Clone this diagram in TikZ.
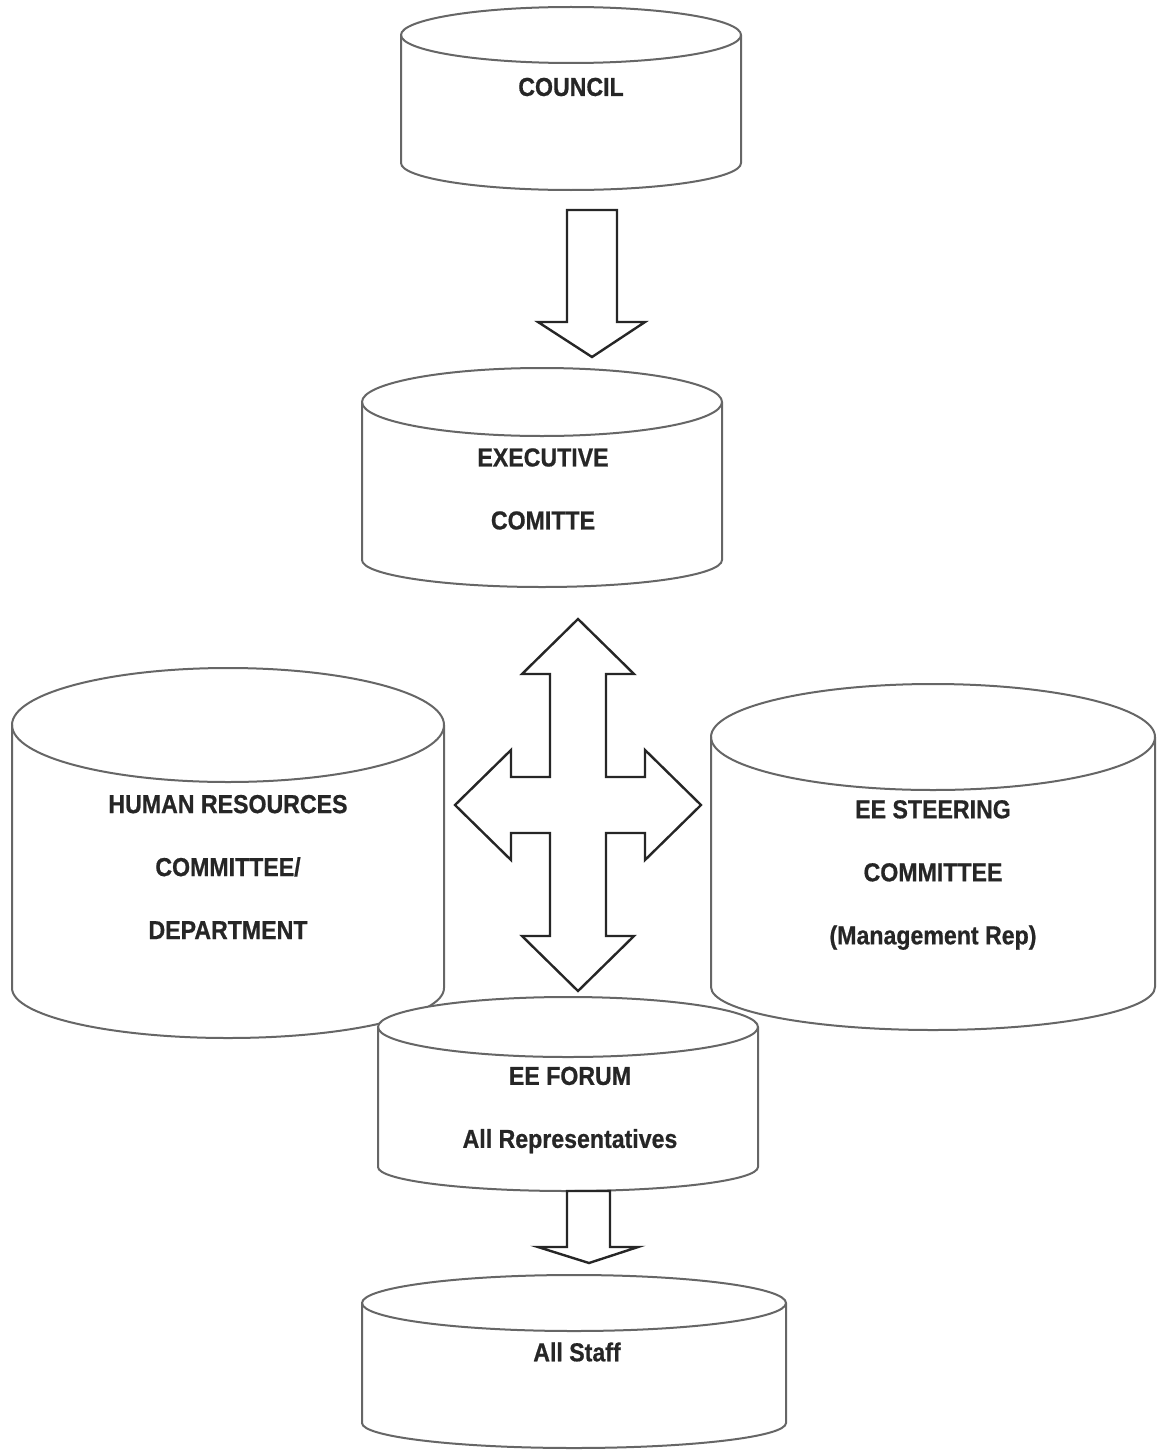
\documentclass[tikz,border=0pt]{standalone}
\usepackage{fontspec}
\newfontfamily\orgfont{Liberation Sans}[FakeStretch=0.89, BoldFeatures={FakeBold=0.6}]
\usepackage{tikz}

\begin{document}
\begin{tikzpicture}[x=0.5pt, y=-0.5pt,
  drum/.style={draw=black!60, line width=1pt, fill=white},
  rim/.style={draw=black!60, line width=1pt},
  blockarrow/.style={draw=black!85, line width=1.2pt, fill=white, line join=miter},
  lbl/.style={align=center, text=black!85, font=\orgfont\bfseries\fontsize{13pt}{31.5pt}\selectfont}]
\draw[drum] (401,35) arc[start angle=180, end angle=360, x radius=170, y radius=28] -- (741,163) arc[start angle=0, end angle=180, x radius=170, y radius=27] -- cycle;
\draw[rim] (741,35) arc[start angle=0, end angle=180, x radius=170, y radius=28];
\draw[drum] (362,402) arc[start angle=180, end angle=360, x radius=180, y radius=34] -- (722,560) arc[start angle=0, end angle=180, x radius=180, y radius=27] -- cycle;
\draw[rim] (722,402) arc[start angle=0, end angle=180, x radius=180, y radius=34];
\draw[drum] (12,725) arc[start angle=180, end angle=360, x radius=216, y radius=57] -- (444,988) arc[start angle=0, end angle=180, x radius=216, y radius=50] -- cycle;
\draw[rim] (444,725) arc[start angle=0, end angle=180, x radius=216, y radius=57];
\draw[drum] (711,737) arc[start angle=180, end angle=360, x radius=222, y radius=53] -- (1155,987) arc[start angle=0, end angle=180, x radius=222, y radius=43] -- cycle;
\draw[rim] (1155,737) arc[start angle=0, end angle=180, x radius=222, y radius=53];
\draw[drum] (378,1027) arc[start angle=180, end angle=360, x radius=190, y radius=30] -- (758,1167) arc[start angle=0, end angle=180, x radius=190, y radius=24] -- cycle;
\draw[rim] (758,1027) arc[start angle=0, end angle=180, x radius=190, y radius=30];
\draw[drum] (362,1303) arc[start angle=180, end angle=360, x radius=212, y radius=28] -- (786,1423) arc[start angle=0, end angle=180, x radius=212, y radius=25] -- cycle;
\draw[rim] (786,1303) arc[start angle=0, end angle=180, x radius=212, y radius=28];
\node[lbl] (council) at (571,87) {COUNCIL};
\node[lbl] (exec) at (543,489) {EXECUTIVE\\COMITTE};
\node[lbl] (hr) at (228,867) {HUMAN RESOURCES\\COMMITTEE/\\DEPARTMENT};
\node[lbl] (steer) at (933,875) {EE STEERING\\COMMITTEE\\(Management Rep)};
\node[lbl] (forum) at (570,1110) {EE FORUM\\All Representatives};
\node[lbl] (staff) at (577,1352) {All Staff};
\draw[blockarrow] (567,210) -- (617,210) -- (617,322) -- (645,322) -- (592,357) -- (538,322) -- (567,322) -- cycle;
\draw[blockarrow] (578,619) -- (634,674) -- (606,674) -- (606,777) -- (645,777) -- (645,750) -- (701,805) -- (645,860) -- (645,833) -- (606,833) -- (606,936) -- (634,936) -- (578,991) -- (522,936) -- (550,936) -- (550,833) -- (511,833) -- (511,860) -- (455,805) -- (511,750) -- (511,777) -- (550,777) -- (550,674) -- (522,674) -- cycle;
\draw[blockarrow] (567,1191) -- (610,1191) -- (610,1247) -- (638,1247) -- (589,1263) -- (538,1247) -- (567,1247) -- cycle;
\path (0,0) rectangle (1158,1450);
\end{tikzpicture}
\end{document}
